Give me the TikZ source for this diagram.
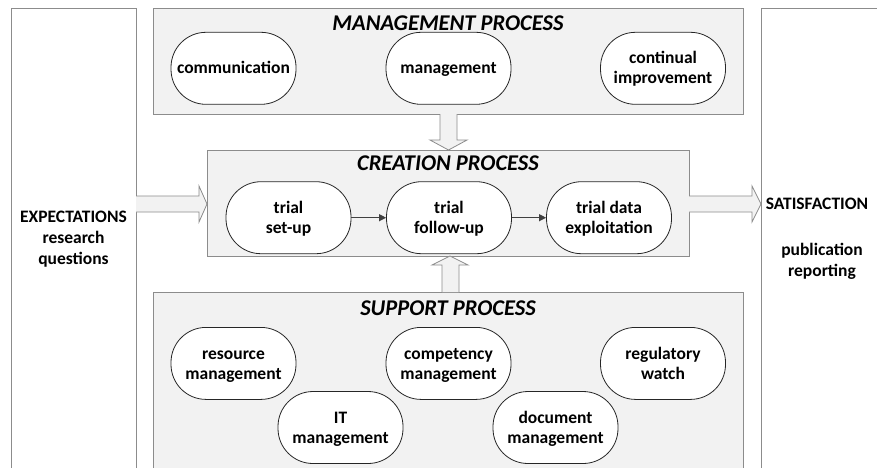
\documentclass[tikz,border=0pt]{standalone}
\usepackage{fontspec}
\setmainfont{Carlito}
\usetikzlibrary{arrows.meta}
\definecolor{boxfill}{HTML}{F2F2F2}
\definecolor{boxline}{HTML}{8C8C8C}
\definecolor{ovline}{HTML}{262626}
\definecolor{smallarr}{HTML}{404040}
\newcommand\ovtxt[2][36pt]{\raisebox{0pt}[#1][4.8pt]{\begin{tabular}[b]{@{}c@{}}#2\end{tabular}}}
\begin{document}
\begin{tikzpicture}[x=1pt,y=-1pt,
  oval/.style={draw=ovline, line width=0.8pt, fill=white, rounded corners=35pt,
    minimum width=125pt, minimum height=72pt, inner sep=0pt,
    font=\fontsize{17.5}{20}\selectfont\bfseries},
  procbox/.style={draw=boxline, line width=0.8pt, fill=boxfill},
  sidebox/.style={draw=boxline, line width=0.8pt, fill=white},
  title/.style={font=\fontsize{22.5}{25}\selectfont\bfseries\itshape, inner sep=0pt},
  sidetext/.style={font=\fontsize{17.5}{21}\selectfont\bfseries, align=center, inner sep=0pt},
  blockarr/.style={draw=boxline, line width=0.8pt, fill=boxfill, line join=miter},
  flow/.style={draw=smallarr, line width=1pt, -{Triangle[length=7pt,width=7pt]}}
]
\useasboundingbox (0,0) rectangle (877,467);
\clip (0,0) rectangle (877,467);
\fill[white] (0,0) rectangle (877,467);

% side boxes
\draw[sidebox] (11,480) -- (11,8) -- (136,8) -- (136,480);
\draw[sidebox] (761,480) -- (761,8) -- (890,8);
\coordinate (leftbox) at (136,204);
\coordinate (rightbox) at (761,204);

% process boxes
\draw[procbox] (153,8) rectangle (743,114);
\draw[procbox] (207,150) rectangle (689,256);
\draw[procbox] (153,292) rectangle (743,480);
\coordinate (creattop) at (448.5,150);
\coordinate (creatbot) at (450,256);

% titles
\node[title] (tmgmt) at (448,23) {MANAGEMENT PROCESS};
\node[title] (tcreat) at (448,163) {CREATION PROCESS};
\node[title] (tsupp) at (448,308) {SUPPORT PROCESS};

% management ovals
\node[oval] (comm) at (233.5,68.3) {\ovtxt[16pt]{communication}};
\node[oval] (mgmt) at (448.5,68.3) {\ovtxt[16pt]{management}};
\node[oval] (cont) at (663,68.3) {\ovtxt{continual\\improvement}};

% creation ovals
\node[oval] (setup) at (288.5,217.7) {\ovtxt{trial\\set-up}};
\node[oval] (follow) at (449,217.7) {\ovtxt{trial\\follow-up}};
\node[oval] (exploit) at (609,217.7) {\ovtxt{trial data\\exploitation}};
\draw[flow] (setup) -- (follow);
\draw[flow] (follow) -- (exploit);

% support ovals
\node[oval] (res) at (233.5,363.4) {\ovtxt{resource\\management}};
\node[oval] (comp) at (448.5,363.4) {\ovtxt{competency\\management}};
\node[oval] (reg) at (663,363.4) {\ovtxt{regulatory\\watch}};
\node[oval] (it) at (340.5,427.5) {\ovtxt{IT\\management}};
\node[oval] (doc) at (555.5,427.5) {\ovtxt{document\\management}};

% side texts
\node[sidetext] (expect) at (73.5,239) {EXPECTATIONS\\research\\questions};
\node[sidetext] (satis) at (817,204) {SATISFACTION};
\node[sidetext] (pub) at (822,261) {publication\\reporting};

% block arrows
\draw[blockarr] (leftbox |- 0,196) -- (199,196) -- (199,186) -- (207,204) -- (199,222) -- (199,212) -- (leftbox |- 0,212);
\draw[blockarr] (689,196) -- (752,196) -- (752,186) -- (rightbox) -- (752,222) -- (752,212) -- (689,212);
\draw[blockarr] (440,114) -- (440,140) -- (430,140) -- (creattop) -- (467,140) -- (457,140) -- (457,114);
\draw[blockarr] (442,292) -- (442,265) -- (432,265) -- (creatbot) -- (468,265) -- (459,265) -- (459,292);
\end{tikzpicture}
\end{document}
